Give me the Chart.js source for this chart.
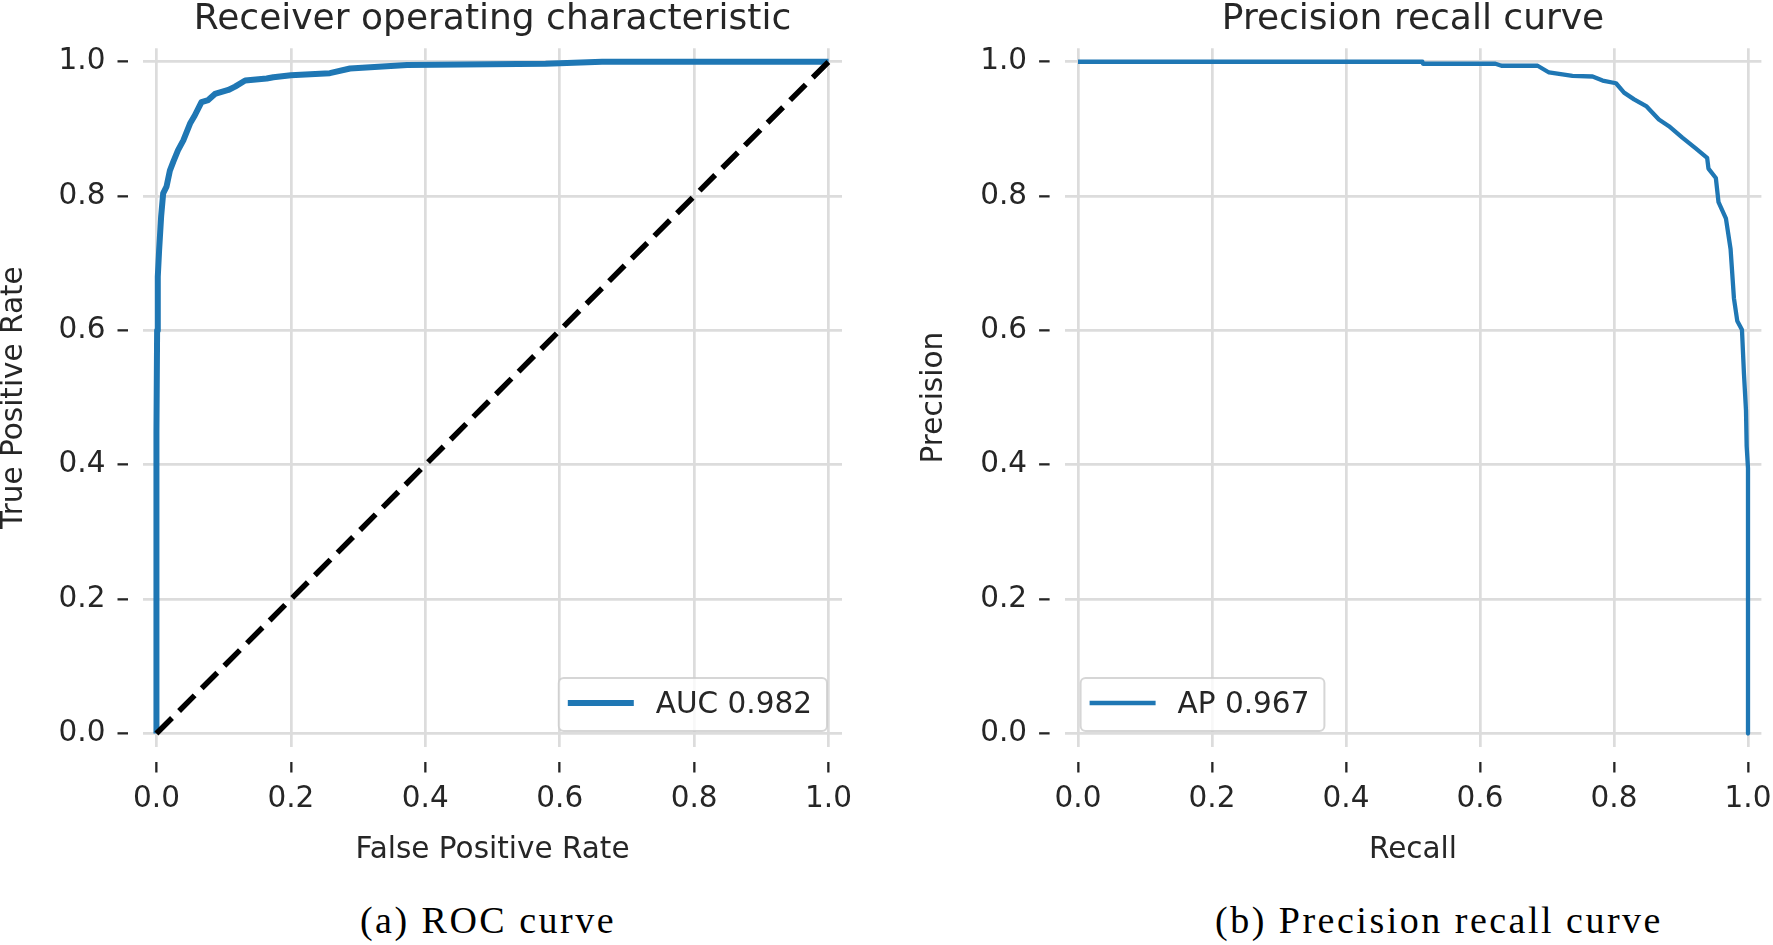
<!DOCTYPE html>
<html lang="en">
<head>
<meta charset="UTF-8" />
<title>ROC and precision recall curves</title>
<script src="https://cdn.jsdelivr.net/npm/chart.js"></script>
<style>
body { margin: 0; background: #fff; width: 1773px; height: 945px; overflow: hidden; position: relative; }
canvas { position: absolute; top: 0; }
#roc { left: 0; }
#pr { left: 886px; }
.caption { position: absolute; top: 901px; width: 400px; font-family: "Liberation Serif", serif; font-size: 38px; line-height: 38px; letter-spacing: 2.5px; color: #000; text-align: center; white-space: nowrap; }
</style>
</head>
<body>
<canvas id="roc" width="886" height="880"></canvas>
<canvas id="pr" width="930" height="880"></canvas>
<div class="caption" style="left:288px">(a) ROC curve</div>
<div class="caption" style="left:1215px">(b) Precision recall curve</div>
<script>
const ticks01 = [0, 0.2, 0.4, 0.6, 0.8, 1.0];

// ROC curve
const rocFpr = [0, 0, 0.001, 0.002, 0.004, 0.007, 0.010, 0.015, 0.020, 0.025, 0.032, 0.040, 0.050, 0.057, 0.067, 0.077, 0.087, 0.107, 0.117, 0.132, 0.164, 0.174, 0.200, 0.258, 0.288, 0.373, 0.579, 0.663, 1.0];
const rocTpr = [0, 0.45, 0.60, 0.68, 0.72, 0.77, 0.804, 0.814, 0.838, 0.851, 0.868, 0.883, 0.908, 0.920, 0.940, 0.943, 0.952, 0.958, 0.963, 0.972, 0.975, 0.977, 0.980, 0.983, 0.990, 0.995, 0.997, 1.0, 1.0];
const chanceX = [0, 1];
const chanceY = [0, 1];

// precision recall curve
const prRecall = [0, 0.514, 0.515, 0.623, 0.632, 0.686, 0.703, 0.738, 0.768, 0.783, 0.803, 0.815, 0.830, 0.848, 0.867, 0.882, 0.902, 0.922, 0.939, 0.941, 0.952, 0.956, 0.967, 0.974, 0.979, 0.984, 0.991, 0.994, 0.997, 0.998, 1.0, 1.0];
const prPrecision = [1.0, 1.0, 0.997, 0.997, 0.994, 0.994, 0.984, 0.979, 0.978, 0.972, 0.968, 0.954, 0.944, 0.934, 0.914, 0.904, 0.887, 0.871, 0.857, 0.841, 0.827, 0.791, 0.767, 0.721, 0.648, 0.614, 0.601, 0.535, 0.481, 0.428, 0.395, 0.0];

const rocLabel = "AUC 0.982";
const prLabel = "AP 0.967";

const BLUE = "#1f77b4";
const INK = "#262626";
const GRID = "#dcdcdc";
const FONT = "DejaVu Sans";

function pts(xs, ys) {
  return xs.map((x, i) => ({ x: x, y: ys[i] }));
}

// matplotlib style legend box inside the plot area
const boxLegend = {
  id: "boxLegend",
  afterDatasetsDraw(chart, args, opts) {
    const ctx = chart.ctx;
    const area = chart.chartArea;
    const ds = chart.data.datasets.find(d => d.label === opts.label);
    ctx.save();
    ctx.font = opts.size + 'px "' + FONT + '"';
    const tw = ctx.measureText(opts.label).width;
    const w = 9 + 66 + 22 + tw + 15;
    const h = 53;
    const x = opts.corner === "right" ? area.right - 15 - w : area.left + 16;
    const y = area.bottom - 16 - h;
    ctx.beginPath();
    ctx.roundRect(x, y, w, h, 5);
    ctx.fillStyle = "rgba(255,255,255,0.8)";
    ctx.fill();
    ctx.lineWidth = 2;
    ctx.strokeStyle = "rgba(204,204,204,0.8)";
    ctx.stroke();
    ctx.beginPath();
    ctx.moveTo(x + 9, y + 25);
    ctx.lineTo(x + 75, y + 25);
    ctx.lineWidth = ds.borderWidth;
    ctx.strokeStyle = ds.borderColor;
    ctx.stroke();
    ctx.fillStyle = INK;
    ctx.textAlign = "left";
    ctx.textBaseline = "middle";
    ctx.fillText(opts.label, x + 97, y + 27);
    ctx.restore();
  }
};

function makeChart(id, datasets, o) {
  const tickFont = { family: FONT, size: 29.5 };
  return new Chart(document.getElementById(id), {
    type: "scatter",
    data: { datasets: datasets },
    plugins: [boxLegend],
    options: {
      responsive: false,
      animation: false,
      devicePixelRatio: 1,
      layout: { padding: { left: 0, right: o.padRight, top: 0, bottom: 0 } },
      plugins: {
        legend: { display: false },
        tooltip: { enabled: false },
        title: {
          display: true,
          text: o.title,
          fullSize: false,
          color: INK,
          font: { family: FONT, size: 36, weight: "normal", lineHeight: 1.2 },
          padding: { top: -2, bottom: 7.1 }
        },
        boxLegend: o.legend
      },
      scales: {
        x: {
          type: "linear",
          min: -0.02,
          max: 1.02,
          afterBuildTicks: s => { s.ticks = ticks01.map(v => ({ value: v })); },
          afterFit: s => { s.height = 133; },
          border: { display: false },
          grid: { color: GRID, lineWidth: 2.7, tickLength: 25.5, tickColor: INK, tickWidth: 2.3, tickBorderDash: [0, 15, 10.5, 100] },
          ticks: { padding: 9, color: INK, font: tickFont, maxRotation: 0, autoSkip: false, callback: v => v.toFixed(1) },
          title: { display: true, text: o.xTitle, color: INK, font: { family: FONT, size: 29.5, lineHeight: 1.2 }, padding: { top: 0, bottom: 12 } }
        },
        y: {
          type: "linear",
          min: -0.02,
          max: 1.02,
          afterBuildTicks: s => { s.ticks = ticks01.map(v => ({ value: v })); },
          afterFit: s => { s.width = o.yWidth; },
          border: { display: false },
          grid: { color: GRID, lineWidth: 2.7, tickLength: 25.5, tickColor: INK, tickWidth: 2.3, tickBorderDash: [10.5, 100] },
          ticks: { padding: 12, color: INK, font: tickFont, autoSkip: false, callback: v => v.toFixed(1) },
          title: { display: true, text: o.yTitle, color: INK, font: { family: FONT, size: 29.5, lineHeight: 1 }, padding: { top: o.yTitlePad, bottom: 0 } }
        }
      }
    }
  });
}

makeChart("roc", [
  { label: "chance", data: pts(chanceX, chanceY), showLine: true, borderColor: "#000", borderWidth: 5.5, borderDash: [22, 10], pointRadius: 0, order: 0 },
  { label: rocLabel, data: pts(rocFpr, rocTpr), showLine: true, borderColor: BLUE, borderWidth: 6, borderJoinStyle: "round", pointRadius: 0, order: 1 }
], {
  title: "Receiver operating characteristic",
  xTitle: "False Positive Rate",
  yTitle: "True Positive Rate",
  yWidth: 143,
  yTitlePad: 0,
  padRight: 44,
  legend: { label: rocLabel, corner: "right", size: 29.5 }
});

// the canvas runs past the page edge, so the last tick label is cut like in the original
makeChart("pr", [
  { label: prLabel, data: pts(prRecall, prPrecision), showLine: true, borderColor: BLUE, borderWidth: 4.3, borderJoinStyle: "round", pointRadius: 0 }
], {
  title: "Precision recall curve",
  xTitle: "Recall",
  yTitle: "Precision",
  yWidth: 178.6,
  yTitlePad: 33.5,
  padRight: 54.6,
  legend: { label: prLabel, corner: "left", size: 29.5 }
});
</script>
</body>
</html>
